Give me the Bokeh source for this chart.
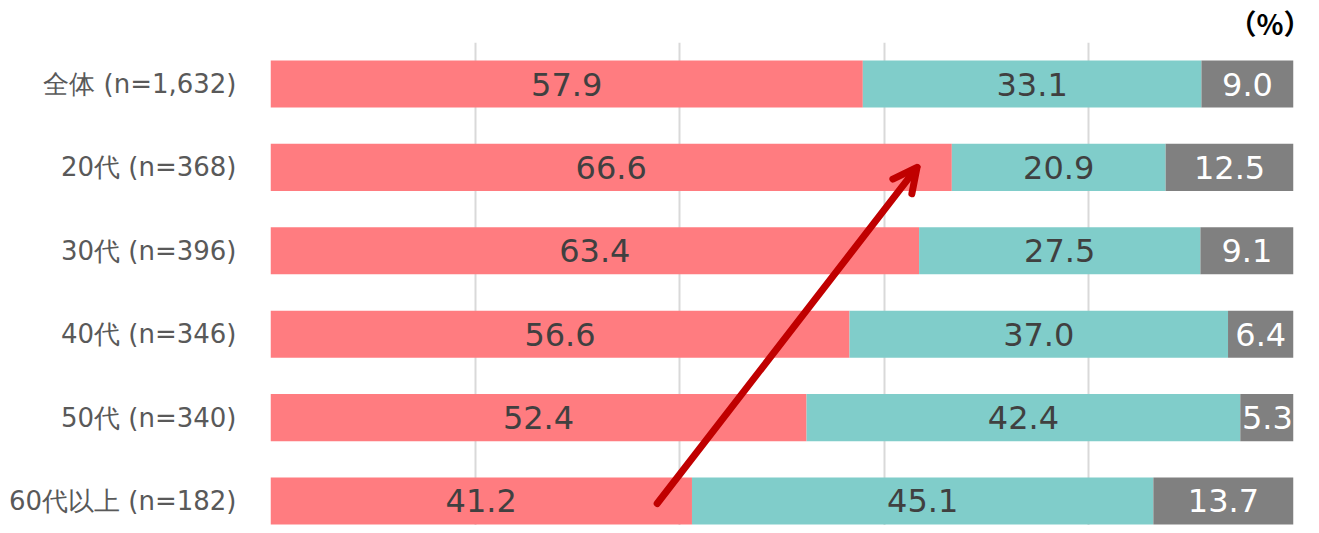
from bokeh.plotting import figure
from bokeh.models import Range1d, FixedTicker, Arrow, OpenHead, ColumnDataSource, Title
from bokeh.core.properties import value
from bokeh.embed import file_html
from bokeh.resources import INLINE

categories = ["全体 (n=1,632)", "20代 (n=368)", "30代 (n=396)", "40代 (n=346)", "50代 (n=340)", "60代以上 (n=182)"]
series1 = [57.9, 66.6, 63.4, 56.6, 52.4, 41.2]
series2 = [33.1, 20.9, 27.5, 37.0, 42.4, 45.1]
series3 = [9.0, 12.5, 9.1, 6.4, 5.3, 13.7]
colors = ["#FF7C80", "#80CDCA", "#808080"]
text_colors = ["#404040", "#404040", "#FFFFFF"]
x_ticks = [0, 20, 40, 60, 80, 100]
arrow_start = (37.8, 5.03)
arrow_end = (63.2, 1.0)
unit_text = "（%）"

FONT = "DejaVu Sans"

p = figure(width=1311, height=525, output_backend="svg", toolbar_location=None,
           x_range=Range1d(0, 100), y_range=Range1d(5.294, -0.498),
           min_border_left=270, min_border_right=18, min_border_top=42, min_border_bottom=0)
p.outline_line_color = None
p.background_fill_color = "white"
p.border_fill_color = "white"

t = Title(text=unit_text, align="right", text_font="Noto Sans CJK JP", text_font_size="28px",
          text_font_style="bold", text_color="#000000", offset=-18, standoff=0)
p.add_layout(t, "above")

p.xaxis.visible = False
p.xgrid.ticker = FixedTicker(ticks=x_ticks)
p.xgrid.grid_line_color = "#D9D9D9"
p.xgrid.grid_line_width = 2
p.ygrid.visible = False

p.yaxis.ticker = FixedTicker(ticks=list(range(len(categories))))
p.yaxis.major_label_overrides = {i: c for i, c in enumerate(categories)}
p.yaxis.axis_line_color = None
p.yaxis.major_tick_line_color = None
p.yaxis.minor_tick_line_color = None
p.yaxis.major_label_text_font = FONT
p.yaxis.major_label_text_font_size = "26px"
p.yaxis.major_label_text_color = "#595959"
p.yaxis.major_label_standoff = 28

ys = list(range(len(categories)))
left = [0.0] * len(categories)
for vals, col, tcol in zip([series1, series2, series3], colors, text_colors):
    right = [l + v for l, v in zip(left, vals)]
    src = ColumnDataSource(dict(y=ys, left=left, right=right,
                                mid=[(l + r) / 2 for l, r in zip(left, right)],
                                label=["%.1f" % v for v in vals]))
    p.hbar(y="y", left="left", right="right", height=0.565, source=src,
           fill_color=col, line_color=None)
    p.text(x="mid", y="y", text="label", source=src, text_align="center",
           text_baseline="middle", text_color=tcol, text_font=value(FONT),
           text_font_size="32px")
    left = right

p.add_layout(Arrow(end=OpenHead(line_color="#C00000", line_width=7, size=24, line_cap="round", line_join="round"),
                   x_start=arrow_start[0], y_start=arrow_start[1],
                   x_end=arrow_end[0], y_end=arrow_end[1],
                   line_color="#C00000", line_width=7, line_cap="round"))

open("out.html", "w").write(file_html(p, INLINE))
